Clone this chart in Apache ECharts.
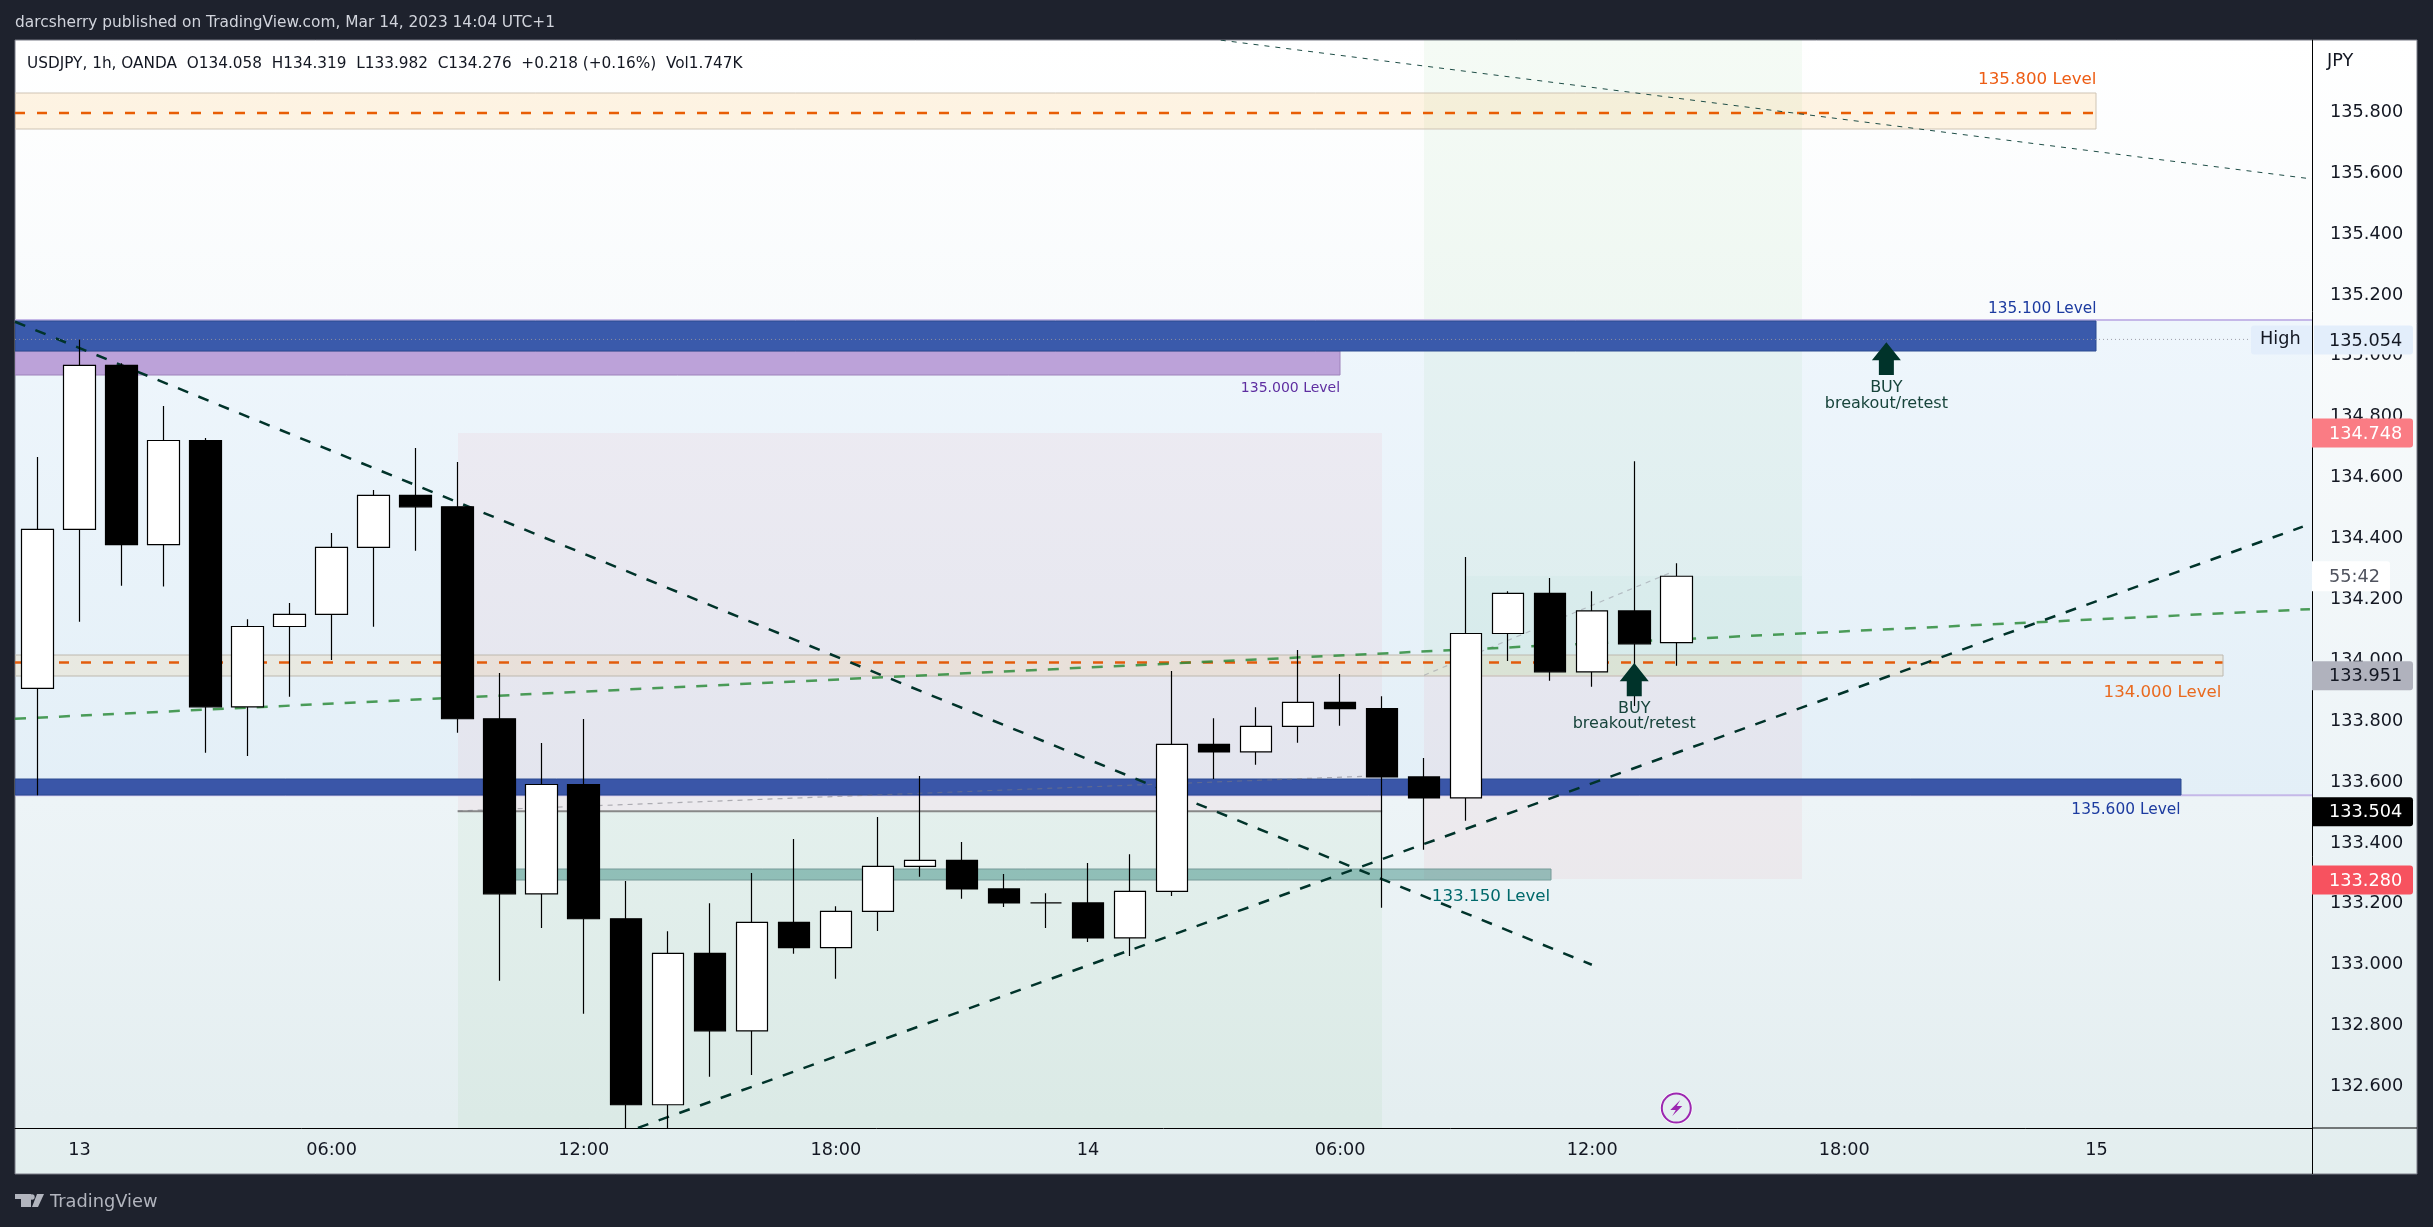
<!DOCTYPE html>
<html><head><meta charset="utf-8">
<style>html,body{margin:0;padding:0;background:#1e222d}#c{width:2433px;height:1227px}</style>
<script src="https://cdn.jsdelivr.net/npm/echarts@6/dist/echarts.min.js"></script>
</head><body><div id="c"></div>
<script>
// ---- data: hours since the first candle, prices in JPY ----
const candleHours = [0,1,2,3,4,5,6,7,8,9,10,11,12,13,14,15,16,17,18,19,20,21,22,23,24,25,26,27,28,29,30,31,32,33,34,35,36,37,38,39];
const opens  = [133.908,134.430,134.969,134.380,134.722,133.847,134.111,134.151,134.371,134.542,134.504,133.808,133.233,133.592,133.151,132.540,133.037,132.783,133.139,133.056,133.175,133.323,133.343,133.249,133.203,133.203,133.088,133.241,133.724,133.699,133.783,133.862,133.841,133.617,133.548,134.088,134.220,133.962,134.162,134.058];
const closes = [134.430,134.969,134.380,134.722,133.847,134.111,134.151,134.371,134.542,134.504,133.808,133.233,133.592,133.151,132.540,133.037,132.783,133.139,133.056,133.175,133.323,133.343,133.249,133.203,133.203,133.088,133.241,133.724,133.699,133.783,133.862,133.841,133.617,133.548,134.088,134.220,133.962,134.162,134.054,134.276];
const lows   = [133.557,134.127,134.245,134.242,133.696,133.686,133.880,134.001,134.110,134.360,133.762,132.947,133.121,132.839,132.464,132.464,132.632,132.638,133.036,132.954,133.111,133.289,133.217,133.190,133.121,133.075,133.029,133.226,133.610,133.657,133.729,133.785,133.187,133.378,133.473,133.998,133.933,133.913,133.850,133.982];
const highs  = [134.668,135.054,134.976,134.835,134.730,134.135,134.188,134.418,134.559,134.697,134.651,133.958,133.728,133.807,133.275,133.110,133.202,133.301,133.413,133.192,133.485,133.620,133.403,133.298,133.235,133.334,133.363,133.965,133.810,133.846,134.034,133.955,133.882,133.679,134.339,134.227,134.270,134.227,134.654,134.319];

const xTickHours  = [1,7,13,19,25,31,37,43,49];
const xTickLabels = ['13','06:00','12:00','18:00','14','06:00','12:00','18:00','15'];
const yTicks = [132.6,132.8,133.0,133.2,133.4,133.6,133.8,134.0,134.2,134.4,134.6,134.8,135.0,135.2,135.4,135.6,135.8];

// zones: [hourStart, hourEnd, priceLow, priceHigh]
const bandTint      = [-1, 55, 133.557, 135.118];
const shortStop     = [10, 32, 133.504, 134.748];
const shortTarget   = [10, 32, 132.300, 133.504];
const longTarget    = [33, 42, 133.951, 136.100];
const longProgress  = [34, 42, 133.951, 134.277];
const longStop      = [33, 42, 133.280, 133.951];
const level135800   = [-1, 49, 135.744, 135.862];
const level135100   = [-1, 49, 135.017, 135.115];
const level135000   = [-1, 31, 134.939, 135.017];
const level134000   = [-1, 52, 133.950, 134.019];
const level135600   = [-1, 51, 133.556, 133.609];
const level133150   = [11, 36, 133.280, 133.316];

// lines: [[hour, price], [hour, price]]
const trendDown   = [[-0.535,135.112],[36.99,133.000]];
const trendUp     = [[14.29,132.464],[53.91,134.439]];
const trendGreen  = [[-0.535,133.808],[54.08,134.168]];
const trendThin   = [[28.16,136.037],[54.13,135.581]];
const dashOrange1 = [[-0.535,135.798],[49,135.798]];
const dashOrange2 = [[-0.535,133.993],[52,133.993]];
const shortPath   = [[10,133.505],[31.76,133.620]];
const longPath    = [[33,133.951],[38.9,134.290]];
const entryLine   = [[10,133.504],[32,133.504]];
const highLine    = [[-0.535,135.054],[52.68,135.054]];

// text anchored at data: [hour, price, text]
const levelTexts = [
  [49,135.907,'135.800 Level'],[49,135.153,'135.100 Level'],[31,134.894,'135.000 Level'],
  [51.97,133.894,'134.000 Level'],[51,133.507,'135.600 Level'],[36,133.224,'133.150 Level']
];
const buyTexts = [[44,134.896,'BUY'],[44,134.843,'breakout/retest'],[38,133.842,'BUY'],[38,133.790,'breakout/retest']];
const buyArrows = [[44,135.045,134.937],[38,133.991,133.882]];
const priceTags = [135.054,134.748,133.951,133.504,133.280];
const countdownPrice = 134.276;
const countdownText = '55:42';
const flashMark = [39,132.529];

// ---- layout ----
const FONT='"DejaVu Sans"';
const L=15,T=40,R=2312,B=1128,FR=2417,FB=1174;
const xMin=-0.535,xMax=54.129,yMin=132.4637,yMax=136.0375;

const chart=echarts.init(document.getElementById('c'),null,{renderer:'canvas'});

function zone(range,fill,stroke,z,sw){
  return {type:'custom',coordinateSystem:'cartesian2d',silent:true,z:z,clip:true,
    encode:{x:[0,1],y:[2,3]},data:[range],
    renderItem:(p,api)=>{
      const a=api.coord([api.value(0),api.value(3)]),b=api.coord([api.value(1),api.value(2)]);
      const s=p.coordSys;
      const x0=Math.max(a[0],s.x),x1=Math.min(b[0],s.x+s.width),y0=Math.max(a[1],s.y),y1=Math.min(b[1],s.y+s.height);
      return {type:'rect',shape:{x:Math.round(x0),y:Math.round(y0),width:Math.round(x1-x0),height:Math.round(y1-y0)},
        style:{fill:fill,stroke:stroke||null,lineWidth:sw||1}};
    }};
}
function line(pts,color,width,dash,z){
  return {type:'line',data:pts,showSymbol:false,symbol:'none',silent:true,z:z,clip:true,animation:false,
    lineStyle:{color:color,width:width,type:dash||'solid'}};
}
function texts(data,colors,sizes,aligns,z){
  return {type:'custom',silent:true,z:z,clip:false,encode:{x:0,y:1},data:data,
    renderItem:(p,api)=>{
      const i=p.dataIndex,c=api.coord([data[i][0],data[i][1]]);
      return {type:'text',x:c[0],y:c[1],style:{text:data[i][2],fill:colors[i],fontFamily:FONT,fontSize:sizes[i],align:aligns[i],verticalAlign:'middle'}};
    }};
}

const tagStyles=[
  {bg:'#e3eefb',fg:'#131722',x0:2},{bg:'#fa7c84',fg:'#ffffff',x0:0},{bg:'#b0b2bd',fg:'#131722',x0:0},
  {bg:'#000000',fg:'#ffffff',x0:1},{bg:'#f7525f',fg:'#ffffff',x0:0}
];

const option={
  animation:false,
  backgroundColor:'transparent',
  grid:{left:L,top:T,width:R-L,height:B-T,containLabel:false,show:false},
  xAxis:{type:'value',min:xMin,max:xMax,splitLine:{show:false},
    axisLine:{show:true,onZero:false,lineStyle:{color:'#000',width:1}},axisTick:{show:false},
    axisLabel:{customValues:xTickHours,margin:13,color:'#131722',fontFamily:FONT,fontSize:17.7,
      formatter:v=>xTickLabels[xTickHours.indexOf(v)],hideOverlap:false}},
  yAxis:{type:'value',position:'right',min:yMin,max:yMax,splitLine:{show:false},scale:true,
    axisLine:{show:true,onZero:false,lineStyle:{color:'#000',width:1}},axisTick:{show:false},
    axisLabel:{customValues:yTicks,margin:18,color:'#131722',fontFamily:FONT,fontSize:17.7,padding:[4,0,0,0],
      formatter:v=>v.toFixed(3),hideOverlap:false}},
  graphic:{elements:[
    {type:'rect',z:-10,silent:true,shape:{x:L,y:T,width:FR-L,height:FB-T},
      style:{fill:new echarts.graphic.LinearGradient(0,0,0,1,[{offset:0,color:'#ffffff'},{offset:0.67,color:'#edf4f7'},{offset:0.95,color:'#e4eef0'},{offset:1,color:'#e3eeee'}]),stroke:'#787b86',lineWidth:1}},
    {type:'line',z:1,silent:true,shape:{x1:R,y1:B,x2:FR,y2:B},style:{stroke:'#000',lineWidth:1}},
    {type:'line',z:1,silent:true,shape:{x1:R+0.5,y1:B,x2:R+0.5,y2:FB},style:{stroke:'#000',lineWidth:1}},
    {type:'text',silent:true,x:15,y:23,style:{text:'darcsherry published on TradingView.com, Mar 14, 2023 14:04 UTC+1',fill:'#d1d4dc',fontFamily:FONT,fontSize:15.4,verticalAlign:'middle'}},
    {type:'text',silent:true,x:27,y:64,style:{text:'USDJPY, 1h, OANDA  O134.058  H134.319  L133.982  C134.276  +0.218 (+0.16%)  Vol1.747K',fill:'#131722',fontFamily:FONT,fontSize:15.3,verticalAlign:'middle'}},
    {type:'text',silent:true,x:2327,y:61,style:{text:'JPY',fill:'#131722',fontFamily:FONT,fontSize:17.7,verticalAlign:'middle'}},
    {type:'text',silent:true,x:50,y:1202,style:{text:'TradingView',fill:'#b2b5be',fontFamily:FONT,fontSize:17.8,verticalAlign:'middle'}},
    {type:'polygon',silent:true,shape:{points:[[15,1194],[31,1194],[31,1207],[21,1207],[21,1199],[15,1199]]},style:{fill:'#b2b5be'}},
    {type:'circle',silent:true,shape:{cx:32,cy:1197,r:2.7},style:{fill:'#b2b5be'}},
    {type:'polygon',silent:true,shape:{points:[[37,1194],[44,1194],[38,1207],[32,1207]]},style:{fill:'#b2b5be'}}
  ]},
  series:[
    zone(bandTint,'rgba(0,140,255,0.04)',null,1),
    line([[xMin,135.118],[xMax,135.118]],'#c5b8e8',2,'solid',1),
    line([[xMin,133.557],[xMax,133.557]],'#c5b8e8',2,'solid',1),
    zone(shortStop,'rgba(242,54,69,0.05)',null,1),
    zone(shortTarget,'rgba(76,175,80,0.055)',null,1),
    zone(longTarget,'rgba(76,175,80,0.055)',null,1),
    zone(longProgress,'rgba(8,153,129,0.025)',null,1),
    zone(longStop,'rgba(242,54,69,0.05)',null,1),
    zone(level135800,'rgba(255,152,0,0.11)','#cfc4b4',2),
    zone(level134000,'rgba(255,152,0,0.09)','#bdb8ae',2),
    zone(level135000,'#bca2d9','#9e82ba',2),
    zone(level135100,'#3a5aab','#2b4a90',2),
    zone(level135600,'#3a56a8','#2b4a90',2),
    zone(level133150,'rgba(0,105,92,0.36)','#769a98',2),
    line(entryLine,'#888888',2,'solid',3),
    line(dashOrange1,'#e85d04',2.5,[10,12],3),
    line(dashOrange2,'#e25c0c',2.5,[10,12],3),
    line(shortPath,'rgba(120,120,130,0.55)',1.2,[5,5],3),
    line(longPath,'rgba(150,150,160,0.55)',1.2,[5,5],3),
    line(trendGreen,'rgba(46,140,60,0.85)',2.5,[11,11],3),
    line(trendDown,'#00332a',2.5,[11,11],3),
    line(trendUp,'#00332a',2.5,[11,11],3),
    line(trendThin,'#1e4d46',1,[5,6],3),
    line(highLine,'rgba(150,150,160,0.9)',1,[1,3],3),
    {type:'candlestick',z:5,silent:true,clip:true,barWidth:32,
      itemStyle:{color:'#ffffff',color0:'#000000',borderColor:'#000000',borderColor0:'#000000',borderWidth:1.2},
      data:candleHours.map((h,i)=>[h,opens[i],closes[i],lows[i],highs[i]])},
    {type:'custom',silent:true,z:6,clip:false,encode:{x:0,y:[1,2]},data:buyArrows,
      renderItem:(p,api)=>{
        const t=api.coord([api.value(0),api.value(1)]),b=api.coord([api.value(0),api.value(2)]);
        const x=t[0],hy=t[1]+(b[1]-t[1])*0.55;
        return {type:'polygon',shape:{points:[[x,t[1]],[x+14.5,hy],[x+7.5,hy],[x+7.5,b[1]],[x-7.5,b[1]],[x-7.5,hy],[x-14.5,hy]]},style:{fill:'#00332a'}};
      }},
    texts(levelTexts,['#ed5c14','#1c3ba0','#5e2ea0','#e96a1f','#1c3ba0','#00696b'],[16.7,15.3,14,16.6,15.4,16.7],['right','right','right','right','right','right'],6),
    texts(buyTexts,['#17443b','#17443b','#17443b','#17443b'],[16,16,16,16],['center','center','center','center'],6),
    {type:'custom',silent:true,z:7,clip:false,encode:{x:0,y:1},data:[flashMark],
      renderItem:(p,api)=>{
        const c=api.coord([api.value(0),api.value(1)]),x=c[0],y=c[1];
        return {type:'group',children:[
          {type:'circle',shape:{cx:x,cy:y,r:15.5},style:{fill:'none',stroke:'#ffffff',lineWidth:1.5}},
          {type:'circle',shape:{cx:x,cy:y,r:14.5},style:{fill:'none',stroke:'#9c27b0',lineWidth:2}},
          {type:'polygon',shape:{points:[[x+4,y-8],[x-6,y+2],[x-0.5,y+2],[x-4,y+8],[x+6,y-2],[x+0.5,y-2]]},style:{fill:'#9c27b0'}}
        ]};
      }},
    {type:'custom',silent:true,z:8,clip:false,encode:{y:0},data:priceTags.map(v=>[v]),
      renderItem:(p,api)=>{
        const i=p.dataIndex,st=tagStyles[i],v=priceTags[i];
        const y=api.coord([xMax,v])[1],x=R+st.x0;
        return {type:'group',children:[
          {type:'rect',shape:{x:x,y:y-14,width:2413-x,height:29,r:[0,3,3,0]},style:{fill:st.bg}},
          {type:'text',x:2329,y:y+1.5,style:{text:v.toFixed(3),fill:st.fg,fontFamily:FONT,fontSize:17.7,verticalAlign:'middle'}}
        ].concat(i===0?[
          {type:'rect',shape:{x:2251,y:y-14,width:R-2251,height:29,r:[3,0,0,3]},style:{fill:st.bg}},
          {type:'text',x:2260,y:y,style:{text:'High',fill:'#131722',fontFamily:FONT,fontSize:17.7,verticalAlign:'middle'}}
        ]:[])};
      }},
    {type:'custom',silent:true,z:8,clip:false,encode:{y:0},data:[[countdownPrice]],
      renderItem:(p,api)=>{
        const y=api.coord([xMax,countdownPrice])[1];
        return {type:'group',children:[
          {type:'rect',shape:{x:R,y:y-15,width:78,height:30,r:[0,3,3,0]},style:{fill:'#ffffff'}},
          {type:'text',x:2329,y:y+1,style:{text:countdownText,fill:'#50535e',fontFamily:FONT,fontSize:17.7,verticalAlign:'middle'}}
        ]};
      }}
  ]
};
chart.setOption(option);
</script></body></html>
